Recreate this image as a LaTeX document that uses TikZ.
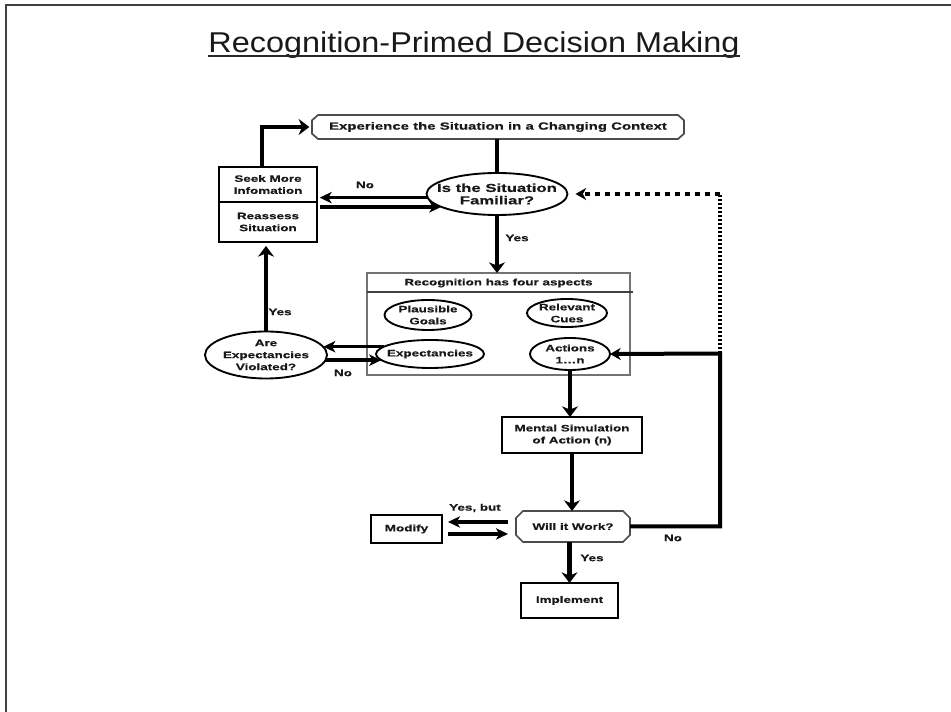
\documentclass[tikz,border=0pt]{standalone}
\usepackage{fontspec}
\setmainfont{Liberation Sans}
\newfontfamily\diagfont[FakeStretch=1.44,FakeBold=0.5]{Liberation Sans}
\newfontfamily\headfont[FakeStretch=1.13]{Liberation Sans}
\usetikzlibrary{arrows.meta,shapes.geometric}

\newcommand\lblfont{\diagfont\bfseries\fontsize{7}{9}\selectfont}
\newcommand\expfont{\diagfont\bfseries\fontsize{7.8}{9}\selectfont}
\newcommand\famfont{\diagfont\bfseries\fontsize{8.7}{9.3}\selectfont}
% octagonal outline around a rectangular node: #1 node, #2 style, #3 cut x, #4 cut y
\newcommand\chamferbox[4]{%
  \draw[#2] ([xshift=#3]#1.north west) -- ([xshift=-#3]#1.north east)
    -- ([yshift=-#4]#1.north east) -- ([yshift=#4]#1.south east)
    -- ([xshift=-#3]#1.south east) -- ([xshift=#3]#1.south west)
    -- ([yshift=#4]#1.south west) -- ([yshift=-#4]#1.north west) -- cycle;}

\begin{document}
\begin{tikzpicture}[x=0.75pt,y=-0.75pt,
  every node/.style={inner sep=0pt,outer sep=0pt,text=black!90,align=center,font=\lblfont},
  rbox/.style={draw=black,line width=1.8pt,rectangle},
  ell/.style={draw=black,ellipse,line width=1.4pt},
  plain/.style={draw=none,rectangle},
  main/.style={draw=black,line width=3.6pt,line join=miter},
  arr/.style={main,-{Stealth[length=8pt,width=12pt,inset=2.5pt]}},
  pair/.style={draw=black,line width=2.6pt,-{Stealth[length=9pt,width=8.5pt,inset=2.5pt]}},
  loopline/.style={draw=black,line width=3pt,line join=miter},
  looparr/.style={loopline,-{Stealth[length=8pt,width=9pt,inset=2.5pt]}},
  dotv/.style={draw=black,line width=3.2pt,dash pattern=on 1.6pt off 1.4pt},
  doth/.style={draw=black,line width=3pt,dash pattern=on 3.75pt off 3.75pt,
    -{Stealth[length=8pt,width=9pt,inset=2.5pt]}},
  outline/.style={draw=black!70,line width=1.3pt,line join=miter}]

\useasboundingbox (0,0) rectangle (951,712);

% frame
\draw[black!75,line width=1.6pt] (6,712) -- (6,5) -- (951,5);

% title
\node[font=\headfont\fontsize{21.5}{24}\selectfont,anchor=base] (title) at (474,52.5)
  {Recognition-Primed Decision Making};
\draw[black!85,line width=1.1pt] ([yshift=-2.7pt]title.base west) -- ([yshift=-2.7pt]title.base east);

% top of the loop
\node[plain,minimum width=279pt,minimum height=18pt,font=\expfont] (exp) at (498,127)
  {Experience the Situation in a Changing Context};
\chamferbox{exp}{outline}{4.5pt}{4pt}

\node[ell,minimum width=105.75pt,minimum height=31.5pt] (fam) at (497,194) {};
\node[font=\famfont] (famT) at (fam) {Is the Situation\\Familiar?};

\node[rbox,minimum width=73.5pt,minimum height=26.25pt] (seek) at (268,184.5) {Seek More\\Infomation};
\node[rbox,minimum width=73.5pt,minimum height=30pt] (reassess) at (268,222) {Reassess\\Situation};

% recognition block
\node[draw=black!55,line width=1pt,minimum width=197.25pt,minimum height=76.5pt] (recog) at (498.5,324) {};
\node (rhead) at (498.5,283) {Recognition has four aspects};
\coordinate (rdivR) at (633,292);
\draw[black!75,line width=1.3pt] (recog.west |- rdivR) -- (rdivR);

\node[ell,minimum width=65.25pt,minimum height=22.5pt] (goals) at (428,315) {};
\node (goalsT) at (goals) {Plausible\\Goals};
\node[ell,minimum width=60pt,minimum height=21pt] (cues) at (567,313) {};
\node (cuesT) at (cues) {Relevant\\Cues};
\node[ell,minimum width=81pt,minimum height=21pt] (expc) at (430,354) {};
\node (expcT) at (expc) {Expectancies};
\node[ell,minimum width=60pt,minimum height=24pt] (actions) at (570,354) {};
\node (actionsT) at (actions) {Actions\\1\ldots n};

\node[ell,minimum width=91.5pt,minimum height=35.25pt] (are) at (266,355) {};
\node (areT) at (are) {Are\\Expectancies\\Violated?};

% evaluation
\node[rbox,minimum width=105pt,minimum height=27pt] (mental) at (572,435) {Mental Simulation\\of Action (n)};
\node[plain,minimum width=85.5pt,minimum height=23.25pt] (will) at (573,526.5) {Will it Work?};
\chamferbox{will}{outline}{5.25pt}{5.25pt}
\node[rbox,line width=1.6pt,minimum width=53.25pt,minimum height=21pt] (modify) at (406.5,529) {Modify};
\node[rbox,line width=1.6pt,minimum width=72.75pt,minimum height=26.25pt] (implement) at (569.5,600.5) {Implement};

% labels
\node (noA) at (365,185) {No};
\node (yesA) at (517,238) {Yes};
\node (yesB) at (280,312) {Yes};
\node (noB) at (343,373) {No};
\node (yesbut) at (475,508) {Yes, but};
\node (yesC) at (592,558) {Yes};
\node (noC) at (673,538) {No};

% connectors
\draw[arr] ([xshift=-4.5pt]seek.north) |- ([xshift=-2pt]exp.west);
\draw[main] (exp.south -| fam.north) -- (fam.north);
\draw[pair] (fam.183) -- ([xshift=2pt]fam.183 -| seek.east);
\draw[pair] ([xshift=2pt]fam.193 -| reassess.east) -- (fam.193);
\draw[arr] (fam.south) -- (fam.south |- recog.north);
\draw[pair] (expc.171.5) -- (expc.171.5 -| are.8);
\draw[pair] (are.-5) -- (are.-5 -| expc.187);
\draw[arr,shorten >=3pt] (are.north) -- (are.north |- reassess.south);
\draw[arr] (actions.south) -- (actions.south |- mental.north);
\draw[arr] (mental.south) -- (mental.south |- will.north);
\coordinate (wl1) at ([shift={(-6pt,3.4pt)}]will.west);
\coordinate (wl2) at ([shift={(-6pt,-5.6pt)}]will.west);
\draw[pair] (wl1) -- ([xshift=4.5pt]modify.east |- wl1);
\draw[pair] ([xshift=4.5pt]modify.east |- wl2) -- (wl2);
\draw[arr] (will.south -| implement.north) -- (implement.north);

\coordinate (loop) at (720,353.5);
\coordinate (dotc) at (loop |- fam.east);
\draw[looparr] (will.east) -| (loop) -- (actions.east);
\draw[dotv] (loop) -- (dotc);
\draw[doth] (dotc) -- ([xshift=6pt]fam.east);
\end{tikzpicture}
\end{document}
